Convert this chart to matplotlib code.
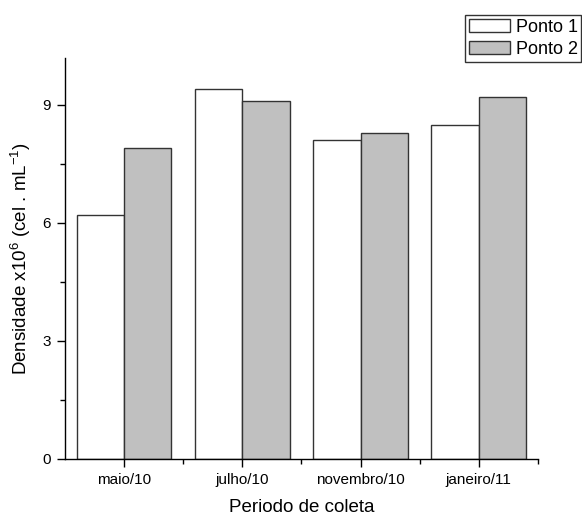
import numpy as np
import matplotlib.pyplot as plt
from matplotlib.ticker import MultipleLocator, FixedLocator

plt.rcParams['font.family'] = ['Liberation Sans', 'DejaVu Sans']
plt.rcParams['mathtext.fontset'] = 'custom'
plt.rcParams['mathtext.rm'] = 'Liberation Sans'
plt.rcParams['mathtext.default'] = 'regular'

# data
periodos = ["maio/10", "julho/10", "novembro/10", "janeiro/11"]
ponto1 = [6.2, 9.4, 8.1, 8.5]
ponto2 = [7.9, 9.1, 8.3, 9.2]

x = np.arange(len(periodos))
w = 0.4

fig = plt.figure(figsize=(5.82, 5.17), dpi=100)
ax = fig.add_axes([0.1117, 0.1122, 0.8125, 0.776])

ax.bar(x - w / 2, ponto1, w, color="white", edgecolor="#333333", linewidth=1.0, label="Ponto 1")
ax.bar(x + w / 2, ponto2, w, color="#c0c0c0", edgecolor="#333333", linewidth=1.0, label="Ponto 2")

ax.set_xlim(-0.5, 3.5)
ax.set_ylim(0, 10.2)
ax.set_xticks(x)
ax.set_xticklabels(periodos, fontsize=11)
ax.xaxis.set_minor_locator(FixedLocator([0.5, 1.5, 2.5, 3.5]))
ax.yaxis.set_major_locator(MultipleLocator(3))
ax.yaxis.set_minor_locator(MultipleLocator(1.5))
ax.tick_params(axis="y", labelsize=11)
ax.tick_params(which="major", direction="out", length=6, width=1, pad=4)
ax.tick_params(which="minor", direction="out", length=3.5, width=1)

for s in ["top", "right"]:
    ax.spines[s].set_visible(False)
for s in ["left", "bottom"]:
    ax.spines[s].set_linewidth(1.0)

ax.set_xlabel("Periodo de coleta", fontsize=13.5, labelpad=9)
ax.set_ylabel(r"Densidade x10$^{6}$ (cel . mL$^{-1}$)", fontsize=13.5, labelpad=7)

leg = fig.legend(loc="upper left", bbox_to_anchor=(0.799, 0.971), fontsize=13,
                 frameon=True, fancybox=False, edgecolor="black",
                 handlelength=2.3, handleheight=0.75, handletextpad=0.3,
                 borderpad=0.2, labelspacing=0.3, borderaxespad=0)
leg.get_frame().set_linewidth(1.0)

fig.savefig("out.png", dpi=100)
